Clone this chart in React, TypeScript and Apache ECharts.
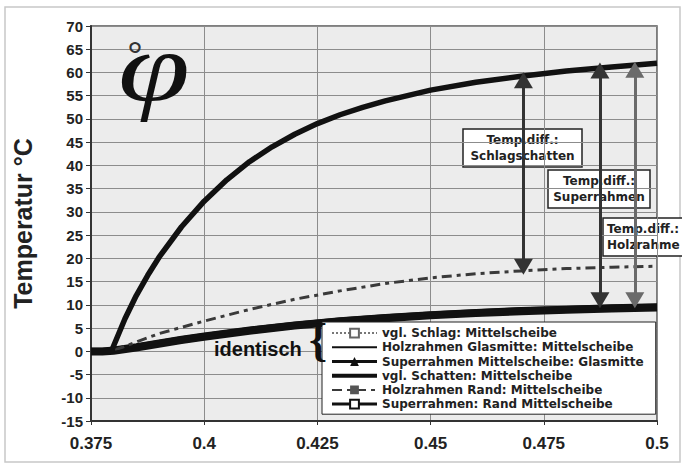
import React, { useEffect, useRef } from "react";
import * as echarts from "echarts";

// ---- data ----
const X_TICKS = [0.375, 0.4, 0.425, 0.45, 0.475, 0.5];

// "vgl. Schatten: Mittelscheibe" (upper thick curve)
const X_TOP = [0.375, 0.3795, 0.3825, 0.385, 0.3875, 0.39, 0.395, 0.4, 0.405, 0.41, 0.415, 0.42, 0.425, 0.43, 0.435, 0.44, 0.45, 0.46, 0.47, 0.48, 0.49, 0.5];
const Y_TOP = [0, 0, 7, 12, 16.3, 20.2, 26.8, 32.3, 36.9, 40.8, 44.0, 46.7, 49.0, 50.9, 52.5, 53.9, 56.2, 57.9, 59.2, 60.3, 61.2, 62.0];

// "Holzrahmen Rand: Mittelscheibe" (dash-dot curve)
const X_HR = [0.375, 0.3795, 0.385, 0.39, 0.4, 0.41, 0.42, 0.43, 0.44, 0.45, 0.46, 0.47, 0.48, 0.49, 0.5];
const Y_HR = [0, 0, 2, 3.8, 6.5, 9, 11.2, 13, 14.6, 15.8, 16.7, 17.3, 17.8, 18.1, 18.3];

// lower band ("identisch")
const X_BAND = [0.375, 0.3775, 0.38, 0.385, 0.39, 0.395, 0.4, 0.41, 0.42, 0.43, 0.44, 0.45, 0.46, 0.47, 0.48, 0.49, 0.5];
const Y_VGL_SCHLAG = [0.3, 0.3, 0.5, 1.2, 2.0, 2.8, 3.5, 4.8, 5.9, 6.8, 7.5, 8.1, 8.6, 9.0, 9.3, 9.6, 9.8];
const Y_HOLZ_GLAS = [0.5, 0.5, 0.7, 1.4, 2.2, 3.0, 3.7, 5.0, 6.1, 7.0, 7.7, 8.3, 8.8, 9.2, 9.5, 9.8, 10.0];
const Y_SUPER_MITTE = [0, 0, 0.2, 0.9, 1.7, 2.5, 3.2, 4.5, 5.6, 6.5, 7.2, 7.8, 8.3, 8.7, 9.0, 9.3, 9.5];
const Y_SUPER_RAND = [-0.5, -0.5, -0.3, 0.4, 1.2, 2.0, 2.7, 4.0, 5.1, 6.0, 6.7, 7.3, 7.8, 8.2, 8.5, 8.8, 9.0];

// temperature-difference arrows
const ARROW_X = [0.4705, 0.4874, 0.4951];
const ARROW_TOP = [58.3, 60.4, 60.6];
const ARROW_BOTTOM = [18.2, 11, 11];

const NAMES = [
  "vgl. Schlag: Mittelscheibe",
  "Holzrahmen Glasmitte: Mittelscheibe",
  "Superrahmen Mittelscheibe: Glasmitte",
  "vgl. Schatten: Mittelscheibe",
  "Holzrahmen Rand: Mittelscheibe",
  "Superrahmen: Rand Mittelscheibe",
];
const LEGEND_LINE_WIDTHS = [2, 2, 3, 4, 2, 3];

const zip = (xs: number[], ys: number[]) => xs.map((x, i) => [x, ys[i]]);
const FONT = "'Liberation Sans', Arial, sans-serif";
const WIDE = "'DejaVu Sans', 'Liberation Sans', sans-serif";

export default function App() {
  const ref = useRef<HTMLDivElement>(null);
  useEffect(() => {
    const chart = echarts.init(ref.current!, null, { renderer: "svg" });
    const arrowColors = ["#333", "#333", "#6a6a6a"];
    const noMark = { color: "rgba(0,0,0,0)", borderWidth: 0 };
    const option: any = {
      animation: false,
      backgroundColor: "#fff",
      grid: {
        left: 91, right: 25, top: 26, bottom: 47,
        show: true, backgroundColor: "#ececec", borderColor: "#555", borderWidth: 1.5,
      },
      xAxis: {
        type: "value", min: 0.375, max: 0.5, interval: 0.025,
        axisLine: { onZero: false, lineStyle: { color: "#333", width: 2 } },
        axisTick: { show: true, length: 4, lineStyle: { color: "#333" } },
        splitLine: { show: true, lineStyle: { color: "#8c8c8c", width: 1 } },
        axisLabel: {
          margin: 14, color: "#222", fontFamily: FONT, fontWeight: "bold", fontSize: 17,
          formatter: (v: number) => String(+v.toFixed(3)),
          customValues: X_TICKS,
        },
      },
      yAxis: {
        type: "value", min: -15, max: 70, interval: 5,
        name: "Temperatur °C", nameLocation: "middle", nameRotate: 90, nameGap: 56,
        nameTextStyle: { fontFamily: FONT, fontWeight: "bold", fontSize: 25, color: "#222" },
        axisLine: { show: true, lineStyle: { color: "#333", width: 2 } },
        axisTick: { show: true, length: 5, lineStyle: { color: "#333" } },
        splitLine: { show: true, lineStyle: { color: "#8c8c8c", width: 1 } },
        axisLabel: { margin: 8, color: "#222", fontFamily: FONT, fontWeight: "bold", fontSize: 15 },
      },
      legend: {
        orient: "vertical", left: 322, top: 322,
        padding: [4, 12, 3, 8], itemGap: 0, itemWidth: 45, itemHeight: 11,
        backgroundColor: "#fff", borderColor: "#222", borderWidth: 1,
        textStyle: { fontFamily: WIDE, fontWeight: "bold", fontSize: 12, lineHeight: 14.2, color: "#222" },
        data: NAMES.map((n, i) => ({ name: n, lineStyle: { width: LEGEND_LINE_WIDTHS[i] } })),
      },
      series: [
        {
          name: NAMES[0], type: "line", data: zip(X_BAND, Y_VGL_SCHLAG), z: 2,
          showSymbol: false, symbol: "rect", symbolSize: 6,
          lineStyle: { color: "#777", width: 3, type: "dotted" },
          itemStyle: { color: "#fff", borderColor: "#666", borderWidth: 1 },
        },
        {
          name: NAMES[1], type: "line", data: zip(X_BAND, Y_HOLZ_GLAS), z: 3,
          showSymbol: false, symbol: "circle",
          lineStyle: { color: "#111", width: 3 }, itemStyle: noMark,
        },
        {
          name: NAMES[2], type: "line", data: zip(X_BAND, Y_SUPER_MITTE), z: 3,
          showSymbol: false, symbol: "triangle", symbolSize: 7,
          lineStyle: { color: "#111", width: 7 }, itemStyle: { color: "#111" },
        },
        {
          name: NAMES[3], type: "line", data: zip(X_TOP, Y_TOP), z: 4,
          showSymbol: false, symbol: "circle",
          lineStyle: { color: "#111", width: 5.5 }, itemStyle: noMark,
          markLine: {
            silent: true, symbol: ["triangle", "triangle"], symbolSize: [19, 16],
            label: { show: false },
            data: ARROW_X.map((x, i) => [
              { coord: [x, ARROW_TOP[i]], lineStyle: { color: arrowColors[i], width: 3, type: "solid" }, itemStyle: { color: arrowColors[i] } },
              { coord: [x, ARROW_BOTTOM[i]] },
            ]),
          },
        },
        {
          name: NAMES[4], type: "line", data: zip(X_HR, Y_HR), z: 3,
          showSymbol: false, symbol: "rect", symbolSize: 5,
          lineStyle: { color: "#3a3a3a", width: 3, type: [10, 5, 4, 5] }, itemStyle: { color: "#555" },
        },
        {
          name: NAMES[5], type: "line", data: zip(X_BAND, Y_SUPER_RAND), z: 3,
          showSymbol: false, symbol: "rect", symbolSize: 7,
          lineStyle: { color: "#111", width: 4 },
          itemStyle: { color: "#fff", borderColor: "#111", borderWidth: 1.5 },
        },
      ],
      graphic: [
        { type: "rect", silent: true, z: 0, shape: { x: 5, y: 7, width: 675, height: 455 }, style: { fill: "none", stroke: "#c8c8c8", lineWidth: 1.5 } },
        { type: "text", z: 100, x: 118, y: 17, scaleX: 1.3, style: { text: "φ", font: "italic 100px 'Liberation Serif', serif", fill: "#111" } },
        { type: "text", z: 101, x: 127, y: 36, style: { text: "°", font: "40px 'Liberation Sans', sans-serif", fill: "#333" } },
        { type: "text", z: 100, x: 214, y: 339, style: { text: "identisch", font: `bold 20px ${FONT}`, fill: "#111" } },
        { type: "text", z: 100, x: 309, y: 316, style: { text: "{", font: "bold 46px 'Liberation Serif', serif", fill: "#111" } },
        {
          type: "group", z: 100, children: [
            { type: "rect", shape: { x: 463, y: 129, width: 119, height: 38 }, style: { fill: "#fff", stroke: "#222", lineWidth: 1.5 } },
            { type: "text", style: { x: 522.5, y: 148, text: "Temp.diff.:\nSchlagschatten", align: "center", verticalAlign: "middle", lineHeight: 16, font: `bold 12px ${WIDE}`, fill: "#222" } },
            { type: "rect", shape: { x: 548, y: 170, width: 102, height: 38 }, style: { fill: "#fff", stroke: "#222", lineWidth: 1.5 } },
            { type: "text", style: { x: 599, y: 189, text: "Temp.diff.:\nSuperrahmen", align: "center", verticalAlign: "middle", lineHeight: 16, font: `bold 12px ${WIDE}`, fill: "#222" } },
            { type: "rect", shape: { x: 603, y: 218, width: 95, height: 38 }, style: { fill: "#fff", stroke: "#222", lineWidth: 1.5 } },
            { type: "text", style: { x: 607, y: 237, text: "Temp.diff.:\nHolzrahme", align: "left", verticalAlign: "middle", lineHeight: 16, font: `bold 12px ${WIDE}`, fill: "#222" } },
          ],
        },
      ],
    };
    chart.setOption(option);
    return () => chart.dispose();
  }, []);
  return <div ref={ref} style={{ width: 682, height: 468, position: "absolute", left: 0, top: 0 }} />;
}
